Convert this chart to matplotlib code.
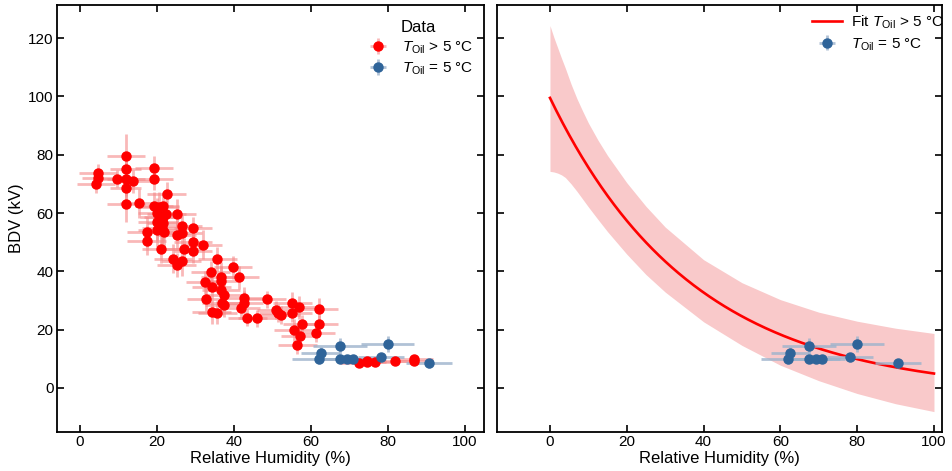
import numpy as np
import matplotlib
matplotlib.use("Agg")
import matplotlib.pyplot as plt

plt.rcParams['font.family'] = ['Liberation Sans', 'DejaVu Sans']
plt.rcParams['mathtext.fontset'] = 'custom'
plt.rcParams['mathtext.rm'] = 'Liberation Sans'
plt.rcParams['mathtext.it'] = 'Liberation Sans:italic'

# ---- Data: T_oil > 5 C (red) ----
red_x = [4.6, 4.6, 4.1, 9.5, 11.9, 11.9, 11.9, 11.9, 13.7, 19.2, 19.2, 11.9, 15.4,
         22.5, 19.2, 20.6, 21.6, 20.1, 22.4, 25.1, 20.7, 21.6, 20.1, 21.5, 21.2,
         20.1, 21.8, 26.6, 29.4, 17.3, 25.1, 26.6, 17.3, 29.4, 32.0, 21.0, 27.0,
         29.3, 35.7, 24.2, 26.4, 25.1, 39.7, 33.9, 41.4, 36.5, 36.5, 32.5, 34.2,
         36.6, 37.4, 42.6, 48.5, 32.7, 42.6, 36.8, 37.4, 55.2, 57.0, 62.1, 41.7,
         50.9, 51.4, 52.1, 55.2, 34.2, 35.7, 43.5, 46.1, 57.8, 62.1, 55.5, 57.1,
         61.3, 56.5, 72.6, 74.5, 74.5, 76.6, 81.9, 86.8, 86.8]
red_y = [73.7, 72.0, 69.9, 71.8, 79.5, 75.2, 71.8, 68.7, 70.9, 75.5, 71.8, 63.0, 63.3,
         66.7, 62.3, 62.1, 62.3, 60.0, 59.6, 59.8, 58.7, 58.5, 56.8, 56.5, 55.0,
         54.3, 53.6, 55.4, 54.8, 53.5, 52.5, 53.1, 50.5, 50.2, 49.2, 47.7, 47.6,
         47.0, 44.2, 44.4, 43.5, 42.2, 41.4, 39.7, 38.0, 38.2, 36.8, 36.2, 34.6,
         33.5, 31.8, 30.7, 30.4, 30.5, 29.3, 29.2, 28.4, 29.0, 27.7, 27.0, 27.6,
         26.7, 25.8, 25.0, 25.6, 26.1, 25.8, 24.1, 23.9, 22.0, 22.0, 19.8, 17.8,
         18.9, 14.7, 8.7, 9.4, 8.9, 9.0, 9.4, 9.8, 9.3]
red_xerr = [5, 4, 5, 5, 5, 4, 5, 4, 5, 5, 5, 5, 5,
            5, 5, 5, 4, 5, 5, 5, 5, 5, 5, 4, 5,
            5, 4, 5, 5, 5, 5, 5, 5, 5, 5, 5, 5,
            5, 5, 5, 5, 5, 5, 5, 5, 5, 5, 5, 5,
            5, 5, 5, 5, 5, 5, 5, 5, 5, 5, 5, 5,
            5, 5, 5, 5, 5, 5, 5, 5, 5, 5, 5, 5,
            5, 5, 5, 5, 5, 5, 5, 5, 5]
red_yerr = [3, 3, 3, 3, 7.5, 5, 6, 5, 4, 4, 4, 6, 5,
            4, 5, 5, 5, 5, 5, 5, 5, 5, 6, 6, 6,
            6, 6, 4, 4, 5, 5, 4, 5, 4, 5, 5, 4,
            4, 4, 5, 5, 4, 4, 4, 4, 5, 5, 4, 4,
            4, 4, 4, 3, 4, 4, 4, 4, 4, 4, 4, 4,
            3, 3, 3, 3, 4, 4, 3, 3, 3, 3, 4, 4,
            3, 3, 1.5, 1.5, 1.5, 1.5, 1.5, 1.5, 1.5]

# ---- Data: T_oil = 5 C (blue) ----
blue_x = [62.0, 62.5, 67.5, 67.5, 69.4, 70.8, 78.1, 79.9, 90.6]
blue_y = [9.8, 12.0, 14.3, 9.9, 9.9, 9.9, 10.5, 15.2, 8.4]
blue_xerr = [7, 5, 7, 6, 6, 6, 6, 7, 6]
blue_yerr = [1.5, 2, 2.8, 1.5, 1.5, 1.5, 1.5, 2.8, 1.5]

# ---- Fit: BDV = A*exp(-k*RH) + C ----
fit_A = 101.5
fit_k = 0.0268
fit_C = -2.0

# ---- Uncertainty band edges ----
band_x = [0, 1, 2, 3, 4, 5.5, 7, 8.5, 10, 12.5, 15, 20, 25, 30, 40, 50, 60, 70, 80, 90, 100]
band_upper = [124.3, 120.3, 116.7, 113.1, 109.7, 104.2, 99.3, 95.0, 90.9, 85.0, 79.7,
              70.4, 62.3, 55.2, 44.0, 36.1, 30.3, 26.0, 22.9, 20.5, 18.7]
band_lower = [74.3, 74.1, 73.7, 73.1, 72.2, 70.0, 67.5, 64.8, 62.1, 57.8, 53.6,
              45.9, 38.9, 32.9, 22.7, 14.6, 7.8, 2.5, -1.9, -5.4, -8.1]

red = '#ff0000'
red_err = '#f58a8a'
blue = '#2f6499'
blue_err = '#9db3cc'

fig = plt.figure(figsize=(9.53, 4.71), dpi=100)
ax1 = fig.add_axes([0.0598, 0.0828, 0.4482, 0.9062])
ax2 = fig.add_axes([0.5215, 0.0828, 0.4670, 0.9062])

eb_red = ax1.errorbar(red_x, red_y, xerr=red_xerr, yerr=red_yerr, fmt='o',
                      color=red, ms=6.5, ecolor=red_err, elinewidth=2, capsize=0,
                      label=r'$T_{\mathrm{Oil}}$ > 5 °C', zorder=3)
for l in eb_red[2]:
    l.set_alpha(0.6)
eb_blue = ax1.errorbar(blue_x, blue_y, xerr=blue_xerr, yerr=blue_yerr, fmt='o',
                       color=blue, ms=6.5, ecolor=blue_err, elinewidth=2, capsize=0,
                       label=r'$T_{\mathrm{Oil}}$ = 5 °C', zorder=3)
for l in eb_blue[2]:
    l.set_alpha(0.8)

ax1.legend(title='Data', frameon=False, loc='upper right',
           bbox_to_anchor=(1.008, 0.998), fontsize=11, title_fontsize=12,
           handletextpad=0.6, labelspacing=0.3)

rh = np.linspace(0, 100, 300)
fit_y = fit_A * np.exp(-fit_k * rh) + fit_C
ax2.fill_between(band_x, band_lower, band_upper, color='#f9c9ca', lw=0, zorder=1)
ax2.plot(rh, fit_y, color=red, lw=1.9, label=r'Fit $T_{\mathrm{Oil}}$ > 5 °C', zorder=2)
eb2 = ax2.errorbar(blue_x, blue_y, xerr=blue_xerr, yerr=blue_yerr, fmt='o',
                   color=blue, ms=6.5, ecolor=blue_err, elinewidth=2, capsize=0,
                   label=r'$T_{\mathrm{Oil}}$ = 5 °C', zorder=3)
for l in eb2[2]:
    l.set_alpha(0.8)
ax2.legend(frameon=False, loc='upper right', bbox_to_anchor=(1.035, 1.013),
           fontsize=11, handletextpad=0.6, labelspacing=0.35)

ax1.set_xlim(-6, 105)
ax2.set_xlim(-13.8, 102.1)
for ax in (ax1, ax2):
    ax.set_ylim(-15.1, 131.3)
    ax.set_xticks([0, 20, 40, 60, 80, 100])
    ax.set_yticks([0, 20, 40, 60, 80, 100, 120])
    ax.tick_params(direction='in', top=True, right=True, length=5, width=1.2,
                   labelsize=11, pad=2.5)
    for s in ax.spines.values():
        s.set_linewidth(1.3)
    ax.set_xlabel('Relative Humidity (%)', fontsize=12, labelpad=1)
ax2.tick_params(labelleft=False)
ax1.set_ylabel('BDV (kV)', fontsize=12, labelpad=3)

fig.savefig('out.png', dpi=100)
